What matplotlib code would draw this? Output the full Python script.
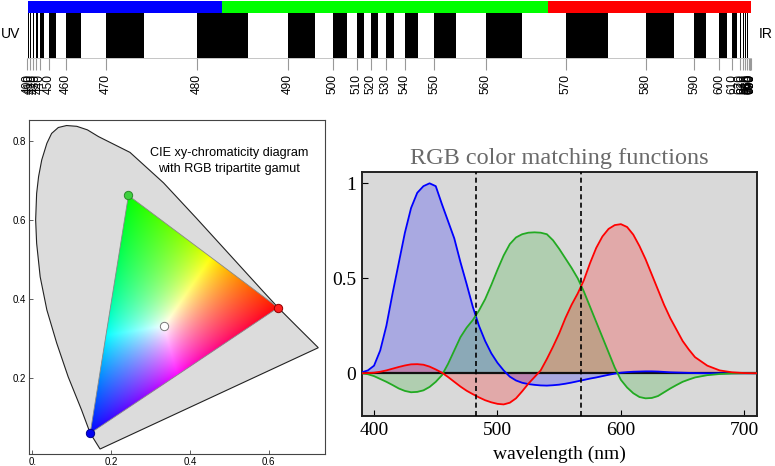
import numpy as np
import matplotlib
matplotlib.use("Agg")
import matplotlib.pyplot as plt
from matplotlib.patches import Polygon

# ---- data ----
# wavelength strip: position (px along the strip) of every 5 nm step
strip_wl = list(range(400, 701, 5))
strip_px = [27.5, 28.7, 30.0, 31.3, 32.6, 34.0, 35.6, 37.6, 40.0, 43.8,
            49.0, 55.5, 66.0, 81.0, 106.0, 144.0, 196.7, 248.0, 288.0, 315.0,
            333.0, 346.7, 356.7, 364.3, 370.7, 378.0, 385.7, 394.0, 405.0, 418.0,
            434.0, 455.7, 485.7, 521.7, 565.7, 608.0, 645.7, 674.3, 694.0, 706.0,
            719.0, 726.7, 732.3, 736.5, 739.5, 741.2, 742.7, 744.1, 745.3, 746.4,
            747.3, 748.0, 748.7, 749.1, 749.5, 749.8, 750.0, 750.15, 750.3, 750.45,
            750.6]
strip_ticks = list(range(400, 701, 10))
band_starts = list(range(400, 700, 10))
gamut_bounds = [400, 482.5, 568, 700]
gamut_colors = ["#0000ff", "#00ff00", "#ff0000"]

# chromaticity diagram outline (spectral locus + line of purples)
locus_x = [0.172, 0.147, 0.125, 0.091, 0.062, 0.037, 0.020, 0.011, 0.0085, 0.011,
           0.016, 0.024, 0.037, 0.049, 0.066, 0.087, 0.113, 0.140, 0.168, 0.248,
           0.333, 0.417, 0.502, 0.586, 0.624, 0.671, 0.726]
locus_y = [0.021, 0.061, 0.120, 0.204, 0.289, 0.373, 0.457, 0.542, 0.601, 0.668,
           0.711, 0.753, 0.795, 0.820, 0.835, 0.840, 0.838, 0.829, 0.812, 0.772,
           0.695, 0.605, 0.512, 0.420, 0.379, 0.332, 0.2775]
prim_x = [0.624, 0.244, 0.147]   # R, G, B
prim_y = [0.379, 0.663, 0.061]
white_xy = (1 / 3, 1 / 3)

# RGB colour matching functions
cmf_wl = list(range(390, 661, 5)) + [670, 680, 690, 700, 710]
cmf_b = [0.005, 0.015, 0.04, 0.12, 0.25, 0.42, 0.58, 0.74, 0.87, 0.95,
         0.985, 1.0, 0.985, 0.89, 0.80, 0.71, 0.585, 0.47, 0.35, 0.25,
         0.17, 0.105, 0.055, 0.015, -0.018, -0.038, -0.05, -0.057, -0.061, -0.064,
         -0.065, -0.063, -0.06, -0.055, -0.049, -0.042, -0.035, -0.028, -0.022, -0.015,
         -0.008, -0.002, 0.003, 0.006, 0.008, 0.009, 0.01, 0.01, 0.009, 0.007,
         0.005, 0.004, 0.003, 0.002, 0.001, 0.0, 0.0, 0.0, 0.0, 0.0]
cmf_g = [0.0, -0.005, -0.015, -0.03, -0.045, -0.062, -0.08, -0.093, -0.1, -0.098,
         -0.09, -0.072, -0.045, -0.01, 0.05, 0.12, 0.19, 0.24, 0.28, 0.33,
         0.39, 0.465, 0.545, 0.62, 0.68, 0.715, 0.732, 0.74, 0.742, 0.74,
         0.732, 0.70, 0.655, 0.605, 0.555, 0.50, 0.43, 0.35, 0.27, 0.19,
         0.11, 0.03, -0.035, -0.075, -0.105, -0.125, -0.132, -0.13, -0.12, -0.10,
         -0.08, -0.062, -0.045, -0.033, -0.022, -0.01, -0.004, -0.001, 0.0, 0.0]
cmf_r = [0.0, 0.001, 0.003, 0.008, 0.015, 0.024, 0.033, 0.041, 0.047, 0.048,
         0.045, 0.035, 0.02, 0.003, -0.02, -0.045, -0.07, -0.092, -0.11, -0.127,
         -0.142, -0.153, -0.161, -0.164, -0.155, -0.132, -0.095, -0.055, -0.02, 0.015,
         0.075, 0.14, 0.21, 0.29, 0.36, 0.42, 0.49, 0.58, 0.66, 0.72,
         0.76, 0.78, 0.785, 0.77, 0.73, 0.67, 0.60, 0.52, 0.44, 0.36,
         0.29, 0.23, 0.17, 0.125, 0.085, 0.04, 0.015, 0.005, 0.001, 0.0]
divider_wl = [482.5, 568]

W, H = 775, 466
SANS = "Liberation Sans"
SERIF = "Liberation Serif"


def rect(l, t, r, b):
    return [l / W, 1 - b / H, (r - l) / W, (b - t) / H]


fig = plt.figure(figsize=(W / 100, H / 100), dpi=100)

# ---- top: wavelength strip ----
ax_s = fig.add_axes(rect(27.5, 1, 750.6, 58.3))
fwd = lambda w: np.interp(w, strip_wl, strip_px)
inv = lambda p: np.interp(p, strip_px, strip_wl)
ax_s.set_xscale("function", functions=(fwd, inv))
ax_s.set_xlim(400, 700)
ax_s.set_ylim(0, 1)
for w in band_starts:
    ax_s.axvspan(w, w + 5, ymin=0, ymax=0.796, color="black", lw=0)
for i, c in enumerate(gamut_colors):
    ax_s.axvspan(gamut_bounds[i], gamut_bounds[i + 1], ymin=0.796, ymax=1, color=c, lw=0)
ax_s.set_xticks(strip_ticks)
ax_s.set_xticklabels([str(t) for t in strip_ticks], rotation=90, fontsize=8.6, family=SANS)
ax_s.xaxis.set_minor_locator(plt.NullLocator())
ax_s.tick_params(axis="x", direction="out", length=8.6, width=0.8, color="#999999", pad=3.0)
ax_s.set_yticks([])
for s in ["top", "left", "right"]:
    ax_s.spines[s].set_visible(False)
ax_s.spines["bottom"].set_color("#bbbbbb")
ax_s.spines["bottom"].set_linewidth(0.6)
fig.text(0.5 / W, 1 - 34 / H, "UV", fontsize=10, family=SANS, ha="left", va="center")
fig.text(759 / W, 1 - 34 / H, "IR", fontsize=10, family=SANS, ha="left", va="center")

# ---- left: chromaticity diagram ----
ax_c = fig.add_axes(rect(29.3, 120, 325, 454))
ax_c.fill(locus_x, locus_y, facecolor="#dcdcdc", edgecolor="#222222", lw=0.8, zorder=1)

tri = Polygon(list(zip(prim_x, prim_y)), closed=True, facecolor="none",
              edgecolor="#888888", lw=0.6, zorder=3)
ax_c.add_patch(tri)


def to_xyz(x, y):
    return np.array([x / y, np.ones_like(x), (1 - x - y) / y])


P = np.stack([to_xyz(prim_x[i], prim_y[i]) for i in range(3)], axis=1)
S = np.linalg.solve(P, to_xyz(*white_xy))
Minv = np.linalg.inv(P * S)
ext = (0.13, 0.64, 0.05, 0.68)
gx, gy = np.meshgrid(np.linspace(ext[0], ext[1], 500), np.linspace(ext[2], ext[3], 500))
rgb = np.tensordot(Minv, to_xyz(gx, gy), axes=1)
rgb = np.clip(rgb, 0, None)
rgb = rgb / np.maximum(rgb.max(axis=0, keepdims=True), 1e-9)
rgb = rgb ** 0.75
img = ax_c.imshow(np.moveaxis(rgb, 0, -1), extent=ext, origin="lower",
                  interpolation="bilinear", aspect="auto", zorder=2)
img.set_clip_path(tri)

dot_face = ["#ff1f1f", "#3fd03f", "#0000f0"]
dot_edge = ["#900000", "#2a8a2a", "#000090"]
for i in range(3):
    ax_c.plot(prim_x[i], prim_y[i], "o", ms=6, mfc=dot_face[i], mec=dot_edge[i], mew=0.7, zorder=4)
ax_c.plot(white_xy[0], white_xy[1], "o", ms=6, mfc="white", mec="#777777", mew=0.7, zorder=4)

ax_c.text(0.50, 0.770, "CIE xy-chromaticity diagram", fontsize=9.1, family=SANS,
          ha="center", va="center", zorder=5)
ax_c.text(0.50, 0.731, "with RGB tripartite gamut", fontsize=9.1, family=SANS,
          ha="center", va="center", zorder=5)

ax_c.set_xlim(-0.0076, 0.743)
ax_c.set_ylim(0.0084, 0.854)
ax_c.set_xticks([0, 0.2, 0.4, 0.6])
ax_c.set_xticklabels(["0.", "0.2", "0.4", "0.6"], fontsize=7, family=SANS)
ax_c.set_yticks([0.2, 0.4, 0.6, 0.8])
ax_c.set_yticklabels(["0.2", "0.4", "0.6", "0.8"], fontsize=7, family=SANS)
ax_c.tick_params(direction="in", length=3, width=0.6, color="#444444", pad=2.5)
for s in ax_c.spines.values():
    s.set_color("#444444")
    s.set_linewidth(0.8)

# ---- right: colour matching functions ----
ax_m = fig.add_axes(rect(361.7, 172.3, 756.7, 416))
ax_m.set_facecolor("#d9d9d9")
series = [(cmf_b, "#0000ff"), (cmf_g, "#22aa22"), (cmf_r, "#ff0000")]
for vals, col in series:
    ax_m.fill_between(cmf_wl, vals, 0, color=col, alpha=0.22, lw=0, zorder=1)
ax_m.axhline(0, color="#111111", lw=1.6, zorder=2)
for vals, col in series:
    ax_m.plot(cmf_wl, vals, color=col, lw=1.3, zorder=3)
for d in divider_wl:
    ax_m.axvline(d, color="black", lw=1.2, ls=(0, (3, 2)), zorder=4)

ax_m.set_xlim(390, 710)
ax_m.set_ylim(-0.225, 1.058)
ax_m.set_xticks([400, 500, 600, 700])
ax_m.set_xticklabels(["400", "500", "600", "700"], fontsize=14, family=SERIF)
ax_m.set_yticks([0, 0.5, 1])
ax_m.set_yticklabels(["0", "0.5", "1"], fontsize=14, family=SERIF)
ax_m.tick_params(direction="in", length=4, width=0.8, pad=4)
for s in ax_m.spines.values():
    s.set_color("#222222")
    s.set_linewidth(1.4)
ax_m.set_title("RGB color matching functions", fontsize=17.5, family=SERIF,
               color="#6a6a6a", pad=6)
ax_m.set_xlabel("wavelength (nm)", fontsize=14, family=SERIF, labelpad=5)

fig.savefig("out.png", dpi=100)
